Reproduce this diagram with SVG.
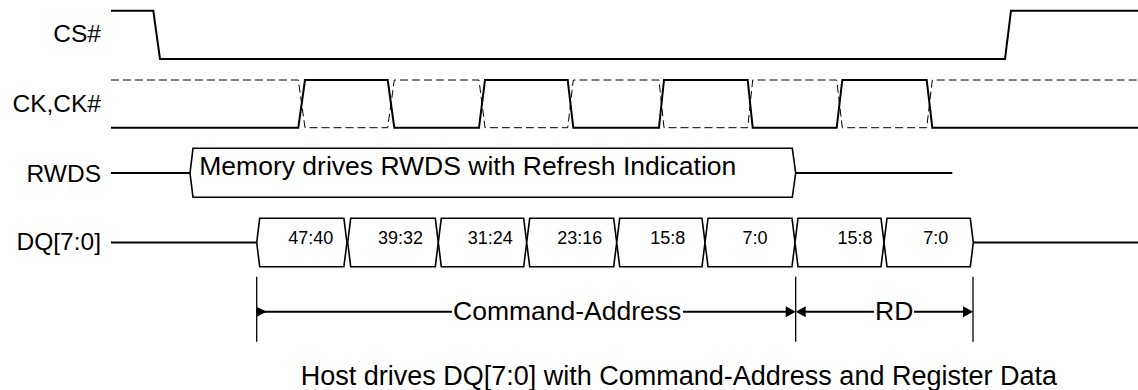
<svg xmlns="http://www.w3.org/2000/svg" width="1138" height="390" viewBox="0 0 1138 390">
<style>
  .lbl { font-family: "Liberation Sans", Arial, sans-serif; font-size: 24.5px; fill: #000; text-anchor: end; }
  .big { font-family: "Liberation Sans", Arial, sans-serif; font-size: 26.5px; fill: #000; }
  .cell { font-family: "Liberation Sans", Arial, sans-serif; font-size: 18px; fill: #000; text-anchor: middle; }
  .sig { fill: none; stroke: #000; stroke-width: 2; stroke-linejoin: miter; }
  .dash { fill: none; stroke: #000; stroke-width: 1; stroke-dasharray: 8 4; }
  .box { fill: #fff; stroke: #000; stroke-width: 1.6; }
  .dim { fill: none; stroke: #000; stroke-width: 2; }
  .bar { fill: none; stroke: #000; stroke-width: 1.3; }
  .head { fill: #000; stroke: none; }
</style>
<rect width="1138" height="390" fill="#fff"/>

<g id="cs">
  <text class="lbl" x="101" y="42.3">CS#</text>
  <path class="sig" d="M111,10.7 L153.3,10.7 L160,59 L1005,59 L1011,10.7 L1138,10.7"/>
</g>

<g id="ck">
  <text class="lbl" x="101" y="111.7">CK,CK#</text>
  <path class="dash" d="M111,80 L298.3,80 L305,127.7 L387.7,127.7 L394.3,80 L479,80 L485,127.7 L567.7,127.7 L573.3,80 L659,80 L664,127.7 L747.7,127.7 L752.7,80 L836.7,80 L842.3,127.7 L926.7,127.7 L932.3,80 L1138,80"/>
  <path class="sig" d="M111,127.7 L298.3,127.7 L305,80 L387.7,80 L394.3,127.7 L479,127.7 L485,80 L567.7,80 L573.3,127.7 L659,127.7 L664,80 L747.7,80 L752.7,127.7 L836.7,127.7 L842.3,80 L926.7,80 L932.3,127.7 L1138,127.7"/>
</g>

<g id="rwds">
  <text class="lbl" x="101" y="181.7">RWDS</text>
  <path class="sig" d="M111,173 L190,173"/>
  <path class="box" d="M190,173 L193,148.3 L792.3,148.3 L795.7,173 L792.3,197.3 L193,197.3 Z"/>
  <path class="sig" d="M795.7,173 L952.3,173"/>
  <text class="big" x="199.3" y="175">Memory drives RWDS with Refresh Indication</text>
</g>

<g id="dq">
  <text class="lbl" x="101" y="250">DQ[7:0]</text>
  <path class="sig" d="M111,242.5 L256.7,242.5"/>
  <path class="sig" d="M973.3,242.5 L1138,242.5"/>
  <path class="box" d="M256.7,242.5 L259.7,218.3 L343.9,218.3 L346.9,242.5 L343.9,266.7 L259.7,266.7 Z"/>
  <path class="box" d="M347.7,242.5 L350.7,218.3 L435.3,218.3 L438.3,242.5 L435.3,266.7 L350.7,266.7 Z"/>
  <path class="box" d="M438.3,242.5 L441.3,218.3 L523.7,218.3 L526.7,242.5 L523.7,266.7 L441.3,266.7 Z"/>
  <path class="box" d="M526.7,242.5 L529.7,218.3 L613.7,218.3 L616.7,242.5 L613.7,266.7 L529.7,266.7 Z"/>
  <path class="box" d="M616.7,242.5 L619.7,218.3 L702,218.3 L705,242.5 L702,266.7 L619.7,266.7 Z"/>
  <path class="box" d="M705,242.5 L708,218.3 L792,218.3 L795,242.5 L792,266.7 L708,266.7 Z"/>
  <path class="box" d="M795,242.5 L798,218.3 L881,218.3 L884,242.5 L881,266.7 L798,266.7 Z"/>
  <path class="box" d="M884,242.5 L887,218.3 L970.3,218.3 L973.3,242.5 L970.3,266.7 L887,266.7 Z"/>
  <text class="cell" x="310.8" y="244.3">47:40</text>
  <text class="cell" x="400.5" y="244.3">39:32</text>
  <text class="cell" x="490.3" y="244.3">31:24</text>
  <text class="cell" x="579.7" y="244.3">23:16</text>
  <text class="cell" x="667.7" y="244.3">15:8</text>
  <text class="cell" x="755" y="244.3">7:0</text>
  <text class="cell" x="855" y="244.3">15:8</text>
  <text class="cell" x="935.8" y="244.3">7:0</text>
</g>

<g id="connectors">
  <line class="bar" x1="256.7" y1="276.7" x2="256.7" y2="341.7"/>
  <line class="bar" x1="795.7" y1="276.7" x2="795.7" y2="341.7"/>
  <line class="bar" x1="973" y1="276.7" x2="973" y2="341.7"/>
  <line class="dim" x1="256.7" y1="311.7" x2="452" y2="311.7"/>
  <line class="dim" x1="683" y1="311.7" x2="788" y2="311.7"/>
  <line class="dim" x1="803" y1="311.7" x2="874" y2="311.7"/>
  <line class="dim" x1="914" y1="311.7" x2="966" y2="311.7"/>
  <polygon class="head" points="256.7,306.7 266.7,311.7 256.7,316.7"/>
  <polygon class="head" points="785.7,306.2 795.7,311.7 785.7,317.2"/>
  <polygon class="head" points="805.7,306.2 795.7,311.7 805.7,317.2"/>
  <polygon class="head" points="963,306.2 973,311.7 963,317.2"/>
  <text class="big" x="453" y="320">Command-Address</text>
  <text class="big" x="875" y="320">RD</text>
</g>

<g id="caption">
  <text class="big" x="300.7" y="385" style="font-size:27px">Host drives DQ[7:0] with Command-Address and Register Data</text>
</g>
</svg>
